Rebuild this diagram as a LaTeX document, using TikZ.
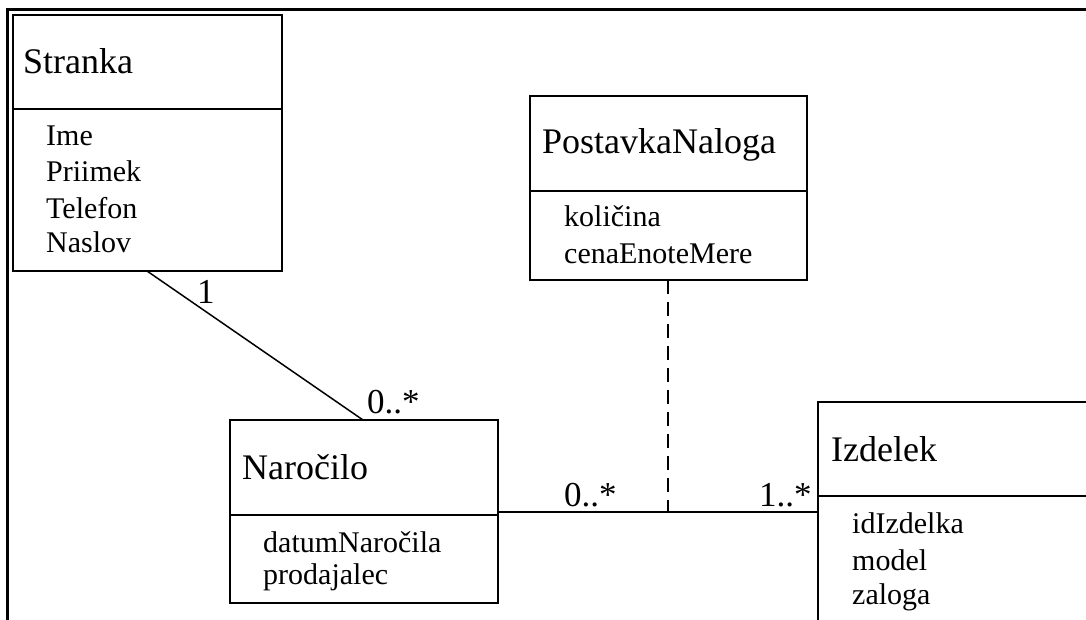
\documentclass[tikz,border=0pt]{standalone}
\usepackage{fontspec}
\setmainfont{Liberation Serif}
\begin{document}
\begin{tikzpicture}[x=1pt,y=-1pt,
  classbox/.style={draw, line width=1.5pt, rectangle, inner sep=0pt, outer sep=0pt, anchor=north west},
  divider/.style={line width=1.5pt},
  title/.style={anchor=base west, inner sep=0pt, font=\fontsize{36}{43}\selectfont},
  attr/.style={anchor=base west, inner sep=0pt, font=\fontsize{30}{36}\selectfont},
  mult/.style={anchor=base west, inner sep=0pt, font=\fontsize{35}{42}\selectfont},
  link/.style={line width=1.5pt},
  depend/.style={line width=1.5pt, dash pattern=on 14pt off 8pt},
]
\clip (0,0) rectangle (1086,620);

% page frame (top and left edges)
\draw[line width=3pt] (7.5,622) -- (7.5,9.5) -- (1090,9.5);

% class Stranka
\node[classbox, minimum width=269pt, minimum height=256pt] (stranka) at (13,15) {};
\draw[divider] (stranka.west |- 0,109) -- (stranka.east |- 0,109);
\node[title] (stranka-t) at (23,74) {Stranka};
\node[attr] (stranka-a1) at (46,146) {Ime};
\node[attr] (stranka-a2) at (46,182) {Priimek};
\node[attr] (stranka-a3) at (46,219) {Telefon};
\node[attr] (stranka-a4) at (46,253) {Naslov};

% class PostavkaNaloga
\node[classbox, minimum width=277pt, minimum height=184pt] (postavka) at (530,96) {};
\draw[divider] (postavka.west |- 0,191) -- (postavka.east |- 0,191);
\node[title] (postavka-t) at (542,154) {PostavkaNaloga};
\node[attr] (postavka-a1) at (564,227) {količina};
\node[attr] (postavka-a2) at (564,263) {cenaEnoteMere};

% class Naročilo
\node[classbox, minimum width=268pt, minimum height=183pt] (narocilo) at (230,420) {};
\draw[divider] (narocilo.west |- 0,515) -- (narocilo.east |- 0,515);
\node[title] (narocilo-t) at (242,479) {Naročilo};
\node[attr] (narocilo-a1) at (263,552) {datumNaročila};
\node[attr] (narocilo-a2) at (263,584) {prodajalec};

% class Izdelek
\node[classbox, minimum width=282pt, minimum height=238pt] (izdelek) at (818,402) {};
\draw[divider] (izdelek.west |- 0,496) -- (izdelek.east |- 0,496);
\node[title] (izdelek-t) at (831,461) {Izdelek};
\node[attr] (izdelek-a1) at (852,533) {idIzdelka};
\node[attr] (izdelek-a2) at (852,570) {model};
\node[attr] (izdelek-a3) at (852,604) {zaloga};

% association Stranka -- Naročilo
\coordinate (sn-a) at (stranka.south west -| 147,0);
\coordinate (sn-b) at (narocilo.north west -| 363,0);
\draw[link] (sn-a) -- (sn-b);
\node[mult] (m-stranka) at (197,303) {1};
\node[mult] (m-narocilo1) at (367,413) {0..*};

% association Naročilo -- Izdelek
\coordinate (ni-a) at (narocilo.east |- 0,512);
\coordinate (ni-b) at (izdelek.west |- 0,512);
\coordinate (ni-mid) at (668,512);
\draw[link] (ni-a) -- (ni-b);
\node[mult] (m-narocilo2) at (564,506) {0..*};
\node[mult] (m-izdelek) at (759,506) {1..*};

% association class link
\coordinate (pn-a) at (postavka.south -| 668,0);
\draw[depend] (pn-a) -- (ni-mid);
\end{tikzpicture}
\end{document}
